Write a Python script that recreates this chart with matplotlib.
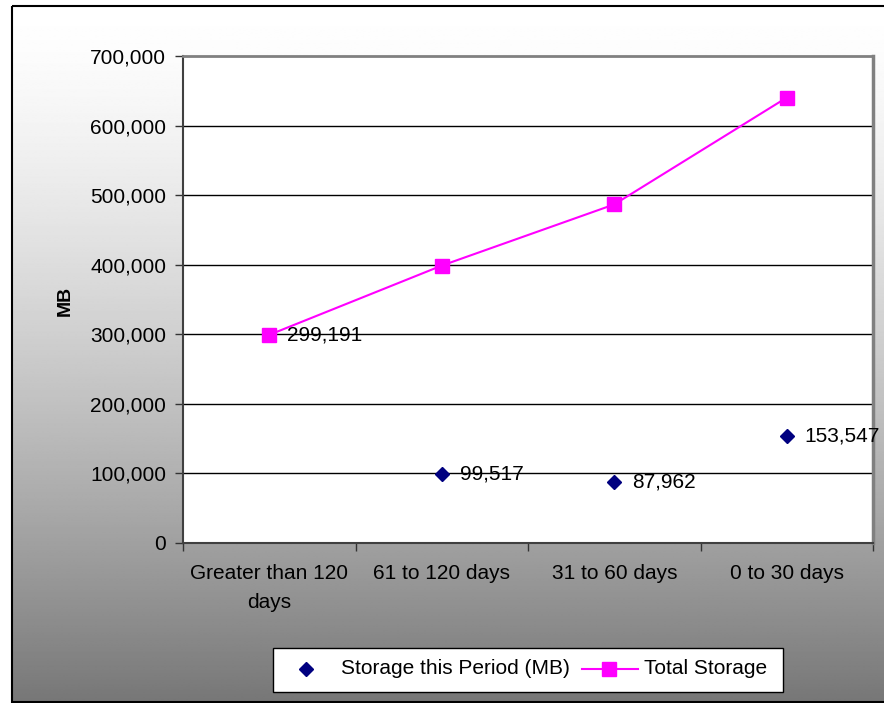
import numpy as np
import matplotlib
matplotlib.use("Agg")
import matplotlib.pyplot as plt
from matplotlib.patches import Rectangle

plt.rcParams['font.family'] = ['Liberation Sans', 'DejaVu Sans']

# data
categories = ['Greater than 120\ndays', '61 to 120 days', '31 to 60 days', '0 to 30 days']
storage_period = [299191, 99517, 87962, 153547]
total_storage = [299191, 398708, 486670, 640217]
y_ticks = [0, 100000, 200000, 300000, 400000, 500000, 600000, 700000]
series_names = ['Storage this Period (MB)', 'Total Storage']

W, H = 884, 703
fig = plt.figure(figsize=(W / 100, H / 100), dpi=100)

# gradient background with black frame (pixel coordinates)
bg = fig.add_axes([0, 0, 1, 1])
bg.set_xlim(0, W)
bg.set_ylim(H, 0)
bg.axis('off')
t = np.linspace(0, 1, 400)[:, None]
shade = 255 - 136 * t ** 1.4
grad = np.repeat(shade, 2, axis=1) / 255.0
bg.imshow(grad, cmap='gray', vmin=0, vmax=1, extent=(12, W + 5, 702, 6),
          aspect='auto', interpolation='bilinear')
bg.add_patch(Rectangle((12, 6), W, 696, fill=False, edgecolor='black', lw=1.5))

# main plot area
ax = fig.add_axes([183 / W, 1 - 543 / H, (873 - 183) / W, (543 - 56) / H])
ax.set_facecolor('white')
x = np.arange(len(categories))

ax.plot(x, storage_period, linestyle='none', marker='D', markersize=7,
        color='#000080', zorder=3)
ax.plot(x, total_storage, color='#FF00FF', lw=1.5, marker='s', markersize=10,
        zorder=4)

for xi, v in zip(x, storage_period):
    ax.annotate(f'{v:,}', (xi, v), xytext=(13, 0), textcoords='offset points',
                va='center', ha='left', fontsize=15, clip_on=False, zorder=5)

ax.set_xlim(-0.5, len(categories) - 0.5)
ax.set_ylim(0, 700000)
ax.set_yticks(y_ticks)
ax.set_yticklabels([f'{v:,}' for v in y_ticks], fontsize=15)
ax.set_xticks(np.arange(-0.5, len(categories), 1.0))
ax.set_xticklabels([])
ax.set_xticks(x, minor=True)
ax.set_xticklabels(categories, minor=True, fontsize=15, linespacing=1.65)
ax.tick_params(axis='x', which='minor', length=0, pad=15)
ax.tick_params(axis='x', which='major', length=6, width=1, color='#333333', direction='out')
ax.tick_params(axis='y', length=6, width=1, color='#333333', pad=6)

for v in y_ticks[1:-1]:
    ax.axhline(v, color='black', lw=1, zorder=1)

ax.spines['top'].set_color('#808080')
ax.spines['top'].set_linewidth(2)
ax.spines['right'].set_color('#808080')
ax.spines['right'].set_linewidth(2.5)
ax.spines['left'].set_color('#404040')
ax.spines['left'].set_linewidth(1.5)
ax.spines['bottom'].set_color('#404040')
ax.spines['bottom'].set_linewidth(1.5)

fig.text(65 / W, 1 - 301 / H, 'MB', rotation=90, fontsize=14, fontweight='bold',
         ha='center', va='center')

# legend box drawn in pixel coordinates, Excel style
bg.add_patch(Rectangle((273, 648), 510, 44, facecolor='white', edgecolor='black',
                       lw=1, zorder=5))
bg.plot([306], [669], linestyle='none', marker='D', markersize=7,
        color='#000080', zorder=6)
bg.text(341, 669, series_names[0], fontsize=15, va='center', ha='left', zorder=6)
bg.plot([582, 638], [669, 669], color='#FF00FF', lw=1.5, zorder=6)
bg.plot([609], [669], marker='s', markersize=10, color='#FF00FF', zorder=6)
bg.text(644, 669, series_names[1], fontsize=15, va='center', ha='left', zorder=6)

fig.savefig('out.png', dpi=100)
